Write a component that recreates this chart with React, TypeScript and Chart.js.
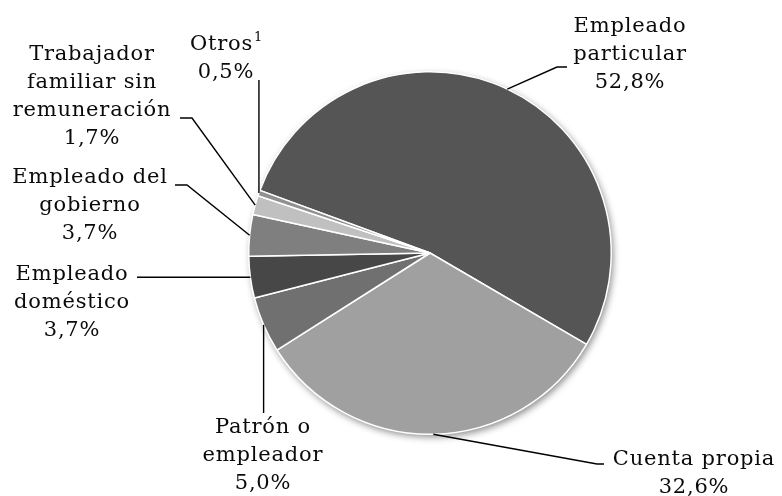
import React, { useEffect, useRef } from "react";
import { Chart, registerables } from "chart.js";

Chart.register(...registerables);

// ---- data (clockwise order) ----
const categories = [
  "Empleado particular",
  "Cuenta propia",
  "Patrón o empleador",
  "Empleado doméstico",
  "Empleado del gobierno",
  "Trabajador familiar sin remuneración",
  "Otros",
];
const shares = [52.8, 32.6, 5.0, 3.7, 3.7, 1.7, 0.5];
const shareLabels = ["52,8%", "32,6%", "5,0%", "3,7%", "3,7%", "1,7%", "0,5%"];
const labelLines = [
  ["Empleado", "particular"],
  ["Cuenta propia"],
  ["Patrón o", "empleador"],
  ["Empleado", "doméstico"],
  ["Empleado del", "gobierno"],
  ["Trabajador", "familiar sin", "remuneración"],
  ["Otros"],
];
const superscripts = ["", "", "", "", "", "", "1"];

// ---- styles / layout ----
const sliceColors = ["#555555", "#a0a0a0", "#707070", "#474747", "#7f7f7f", "#c0c0c0", "#909090"];
const FONT = '"DejaVu Serif", serif';
const FONT_SIZE = 21;
const LETTER_SPACING = 0.8;
const LINE_H = 28;
// label text anchor: center x, first-line middle y
const labelAnchors = [
  [630, 27],
  [694, 460],
  [263, 428],
  [72, 275],
  [90, 178],
  [92, 55],
  [226, 45],
];
// leader polyline points before reaching the arc (pixel layout); "X"/"Y" means use arc coordinate
const leaderPaths: any[][] = [
  [[567, 67], [557, 67]],
  [[604, 464], [597, 464]],
  [["X", 413]],
  [[137, "Y"]],
  [[175, 185], [187, 185]],
  [[180, 118], [192, 118]],
  [["X", 80]],
];

const labelPlugin = {
  id: "pieLabels",
  beforeDatasetsDraw(chart: any) {
    const meta = chart.getDatasetMeta(0);
    const arc = meta.data[0];
    if (!arc) return;
    const { x, y, outerRadius } = arc.getProps(["x", "y", "outerRadius"], true);
    const ctx = chart.ctx;
    ctx.save();
    ctx.shadowColor = "rgba(0,0,0,0.45)";
    ctx.shadowBlur = 7;
    ctx.shadowOffsetX = 2;
    ctx.shadowOffsetY = 3;
    ctx.beginPath();
    ctx.arc(x, y, outerRadius, 0, Math.PI * 2);
    ctx.fillStyle = "#ffffff";
    ctx.fill();
    ctx.restore();
  },
  afterDatasetsDraw(chart: any) {
    const ctx = chart.ctx;
    const meta = chart.getDatasetMeta(0);
    ctx.save();
    meta.data.forEach((el: any, i: number) => {
      const p = el.getProps(["x", "y", "startAngle", "endAngle", "outerRadius"], true);
      const mid = (p.startAngle + p.endAngle) / 2;
      const ax = p.x + Math.cos(mid) * p.outerRadius;
      const ay = p.y + Math.sin(mid) * p.outerRadius;
      // leader line
      ctx.beginPath();
      ctx.strokeStyle = "#000000";
      ctx.lineWidth = 1.4;
      const pts = leaderPaths[i].map((pt: any) => [pt[0] === "X" ? ax : pt[0], pt[1] === "Y" ? ay : pt[1]]);
      pts.forEach((pt: number[], k: number) => {
        if (k === 0) ctx.moveTo(pt[0], pt[1]);
        else ctx.lineTo(pt[0], pt[1]);
      });
      ctx.lineTo(ax, ay);
      ctx.stroke();
      // text
      const [cx, cy] = labelAnchors[i];
      const lines = [...labelLines[i], shareLabels[i]];
      ctx.fillStyle = "#0a0a0a";
      ctx.textBaseline = "middle";
      (ctx as any).letterSpacing = `${LETTER_SPACING}px`;
      lines.forEach((ln: string, k: number) => {
        const ty = cy + k * LINE_H;
        if (k === 0 && superscripts[i]) {
          ctx.font = `${FONT_SIZE}px ${FONT}`;
          const w1 = ctx.measureText(ln).width;
          ctx.font = `${Math.round(FONT_SIZE * 0.6)}px ${FONT}`;
          const w2 = ctx.measureText(superscripts[i]).width;
          const sx = cx - (w1 + w2) / 2;
          ctx.textAlign = "left";
          ctx.font = `${FONT_SIZE}px ${FONT}`;
          ctx.fillText(ln, sx, ty);
          ctx.font = `${Math.round(FONT_SIZE * 0.6)}px ${FONT}`;
          ctx.fillText(superscripts[i], sx + w1 + 1, ty - 7);
        } else {
          ctx.font = `${FONT_SIZE}px ${FONT}`;
          ctx.textAlign = "center";
          ctx.fillText(ln, cx, ty);
        }
      });
    });
    ctx.restore();
  },
};

export default function App() {
  const ref = useRef<HTMLCanvasElement | null>(null);
  useEffect(() => {
    if (!ref.current) return;
    const chart = new Chart(ref.current, {
      type: "pie",
      data: {
        labels: categories,
        datasets: [
          {
            data: shares,
            backgroundColor: sliceColors,
            borderColor: "#ffffff",
            borderWidth: 1.5,
          },
        ],
      },
      options: {
        responsive: false,
        animation: false,
        rotation: 290.2,
        layout: { padding: { top: 71, bottom: 61, left: 248, right: 170 } },
        plugins: { legend: { display: false }, tooltip: { enabled: false } },
        events: [],
      },
      plugins: [labelPlugin],
    });
    return () => chart.destroy();
  }, []);
  return (
    <div style={{ position: "absolute", left: 0, top: 0, width: 782, height: 496, background: "#ffffff" }}>
      <canvas ref={ref} width={782} height={496} style={{ display: "block" }} />
    </div>
  );
}
